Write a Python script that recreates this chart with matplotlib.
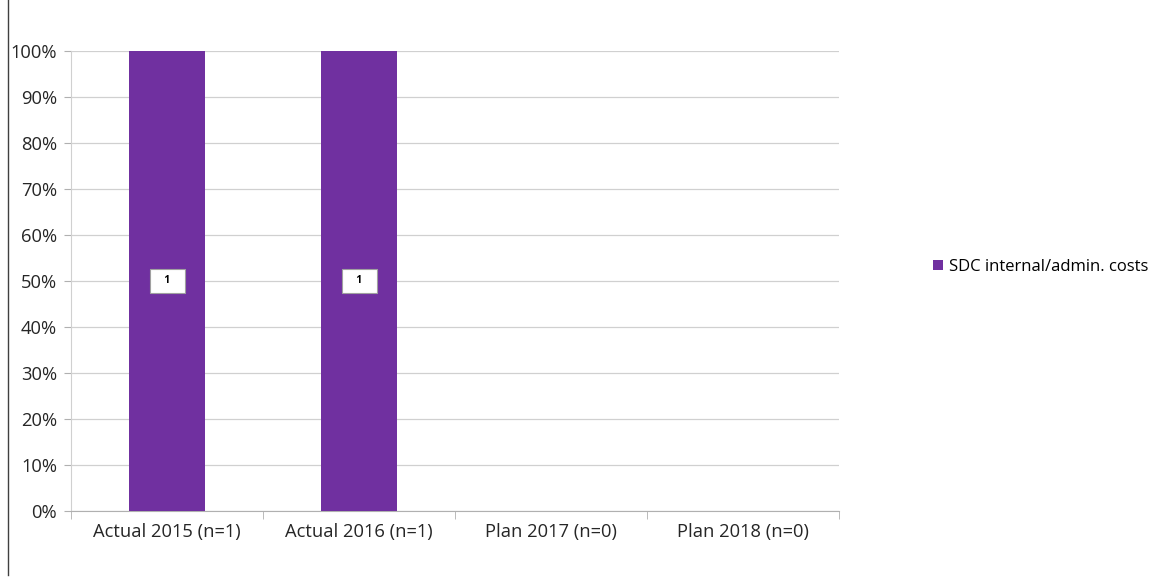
import matplotlib
matplotlib.use("Agg")
import matplotlib.pyplot as plt
from matplotlib.lines import Line2D
from matplotlib.ticker import PercentFormatter, FixedLocator
import numpy as np

plt.rcParams['font.family'] = ['Open Sans', 'DejaVu Sans']

categories = ['Actual 2015 (n=1)', 'Actual 2016 (n=1)', 'Plan 2017 (n=0)', 'Plan 2018 (n=0)']
shares = [100, 100, 0, 0]     # percent of total
counts = [1, 1, 0, 0]         # number of projects
series_name = 'SDC internal/admin. costs'

fig = plt.figure(figsize=(11.62, 5.83), dpi=100)
W, H = 1162, 583
ax = fig.add_axes([71 / W, 1 - 511 / H, (839 - 71) / W, (511 - 51) / H])

x = np.arange(len(categories))
bars = ax.bar(x, shares, width=0.4, color='#7030A0', label=series_name, zorder=3)

# data labels in the middle of non-empty bars
for xi, s, c in zip(x, shares, counts):
    if s > 0:
        ax.text(xi, s / 2, '   %d   ' % c, ha='center', va='center', fontsize=7.5, fontweight='bold',
                bbox=dict(boxstyle='square,pad=0.6', fc='white', ec='#a0a0a0', lw=0.8), zorder=4)

ax.set_xlim(-0.5, len(categories) - 0.5)
ax.set_ylim(0, 100)
ax.set_yticks(np.arange(0, 101, 10))
ax.yaxis.set_major_formatter(PercentFormatter(decimals=0))
ax.set_xticks(x)
ax.set_xticklabels(categories)
ax.xaxis.set_minor_locator(FixedLocator(np.arange(-0.5, len(categories), 1)))
ax.tick_params(axis='x', which='major', length=0, pad=9, labelsize=13.2, colors='#262626')
ax.tick_params(axis='x', which='minor', length=6, color='#b0b0b0', direction='out')
ax.tick_params(axis='y', length=5, color='#b0b0b0', labelsize=13.2, colors='#262626', pad=5)

ax.grid(axis='y', color='#d0d0d0', lw=0.9, zorder=0)
for side in ['top', 'right']:
    ax.spines[side].set_visible(False)
ax.spines['left'].set_color('#d0d0d0')
ax.spines['bottom'].set_color('#b0b0b0')

leg = fig.legend(loc='center left', bbox_to_anchor=(918 / W, 1 - 267 / H), frameon=False,
                 fontsize=12, handlelength=0.6, handleheight=0.6, handletextpad=0.35)

# border line on the left of the image
fig.add_artist(Line2D([8 / W, 8 / W], [1 - 575 / H, 1], color='#404040', lw=1))

fig.savefig('out.png', dpi=100)
